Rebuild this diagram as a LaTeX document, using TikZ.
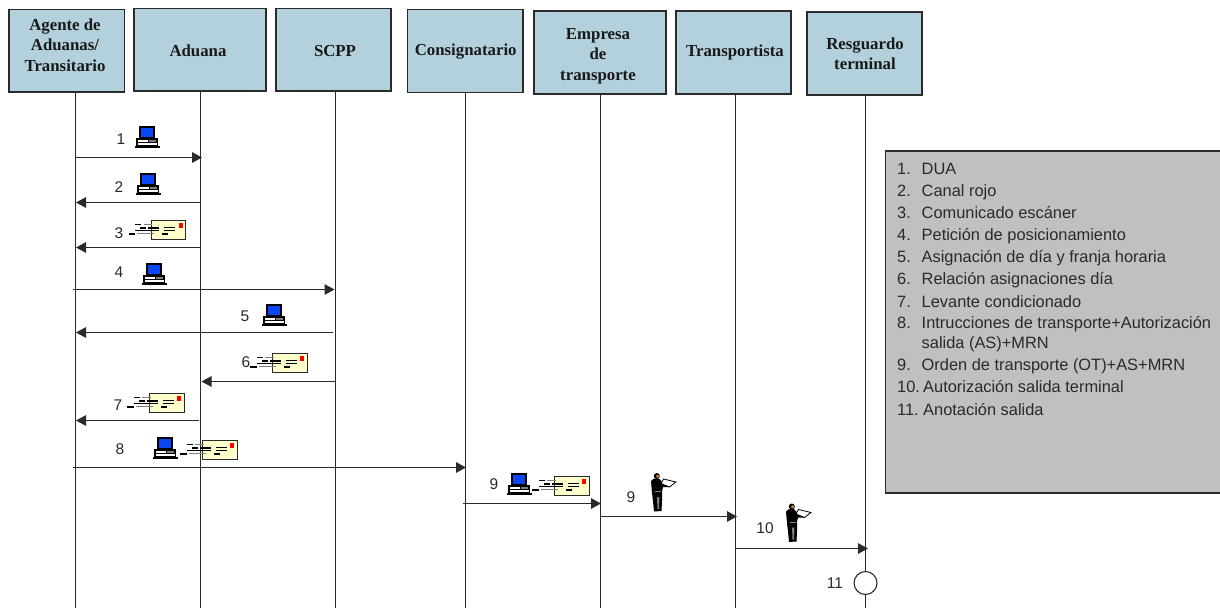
\documentclass[tikz,border=0pt]{standalone}
\usepackage{fontspec}
\setmainfont{Liberation Serif}
\newfontfamily\lsans{Liberation Sans}
\usetikzlibrary{arrows.meta}
\definecolor{hdr}{HTML}{B3D1DD}
\definecolor{panel}{HTML}{C0C0C0}
\definecolor{envy}{HTML}{FFFFCC}
\definecolor{scr}{HTML}{0A46F5}
\definecolor{ln}{HTML}{2A2A2A}
\tikzset{
  x=1pt,y=-1pt,
  hbox/.style={draw=ln,line width=1.2pt,fill=hdr,inner sep=0pt},
  htxt/.style={inner sep=0pt,align=center,text=black!90,
    font=\bfseries\fontsize{16.8}{20.4}\selectfont},
  life/.style={draw=ln,line width=1.3pt},
  msg/.style={draw=ln,line width=1.3pt,-{Triangle[length=10pt,width=10.5pt]}},
  num/.style={font=\lsans\fontsize{15.5}{17}\selectfont,text=ln,inner sep=0pt},
  lst/.style={font=\lsans\fontsize{16.4}{18}\selectfont,text=ln,inner sep=0pt,anchor=base west},
  pics/pc/.style={code={
    \fill[black] (4,0) rectangle (20,12.5);
    \fill[scr] (5.5,1.5) rectangle (17.5,11.3);
    \fill[black] (1,12) rectangle (23,20);
    \fill[white] (2.5,13.8) rectangle (13,16);
    \fill[white] (2.5,17.3) rectangle (22,18.8);
    \fill[gray] (14,13.5) rectangle (21,15.5);
    \fill[black] (0,20.4) rectangle (24.5,21.8);
  }},
  pics/env/.style={code={
    \draw[draw=ln,line width=.9pt,fill=envy] (0,0) rectangle (34.5,19);
    \fill[red] (27.5,3) rectangle (31.5,7.5);
    \fill[black] (13,6.5) rectangle (24,8);
    \fill[black] (13,9.5) rectangle (24,11);
    \fill[black] (11,13) rectangle (17,14.5);
    \fill[black] (-16,4) rectangle (-10,5.3);
    \fill[gray] (-7.5,4) rectangle (1,5.3);
    \fill[black] (-11,7.2) rectangle (-5,8.5);
    \fill[black] (-3,7.2) rectangle (8,8.5);
    \fill[black] (-16,10) rectangle (8,11.2);
    \fill[gray] (-14,13) rectangle (3,14);
    \fill[black] (-22.5,13) rectangle (-16,14.6);
  }},
  pics/man/.style={code={
    \fill[black] (1,8) -- (4,5.5) -- (9,5.5) -- (12,9) -- (18,11.5) -- (19.5,14) -- (13,14)
       -- (12,18) -- (12,28) -- (11.5,38) -- (4,38.5) -- (3,28) -- (2,20) -- cycle;
    \fill[black] (6.8,3) circle (3);
    \fill[brown!70!orange] (7.6,3.2) circle (1.7);
    \draw[draw=black,line width=.8pt,fill=white] (13.5,6) -- (26,9) -- (19.5,14) -- (11,10.5) -- cycle;
    \fill[gray] (5,18) rectangle (11,19.2);
    \fill[gray] (7,24) -- (9.5,24) -- (9,36) -- (7.5,36) -- cycle;
  }}
}
\begin{document}
\begin{tikzpicture}
\useasboundingbox (0,0) rectangle (1220,608);
\fill[white] (0,0) rectangle (1220,608);

% lifeline ends
\coordinate (e1) at (75.5,608);
\coordinate (e2) at (200.5,608);
\coordinate (e3) at (335.5,608);
\coordinate (e4) at (465.5,608);
\coordinate (e5) at (600.5,608);
\coordinate (e6) at (735.5,608);
\coordinate (e7) at (865.5,608);
\coordinate (t1) at (75.5,92);
\coordinate (t2) at (200.5,91);
\coordinate (t3) at (335.5,91);
\coordinate (t4) at (465.5,92);
\coordinate (t5) at (600.5,94);
\coordinate (t6) at (735.5,94);
\coordinate (t7) at (865.5,95);
\foreach \i in {1,...,7} \draw[life] (t\i) -- (e\i);

% headers
\node[hbox,minimum width=115.5pt,minimum height=82.5pt] (a) at (66.75,50.75) {};
\node[hbox,minimum width=132pt,minimum height=82.5pt] (b) at (200,49.75) {};
\node[hbox,minimum width=115pt,minimum height=82.5pt] (c) at (333.5,49.75) {};
\node[hbox,minimum width=115.5pt,minimum height=83pt] (d) at (465.25,51) {};
\node[hbox,minimum width=132pt,minimum height=83pt] (f) at (600,52.5) {};
\node[hbox,minimum width=115pt,minimum height=83pt] (g) at (733.5,52.5) {};
\node[hbox,minimum width=115pt,minimum height=83pt] (h) at (864.5,53.5) {};
\node[htxt] (at) at (65,45) {Agente de\\Aduanas/\\Transitario};
\node[htxt] (bt) at (198,51) {Aduana};
\node[htxt] (ct) at (335,51) {SCPP};
\node[htxt] (dt) at (465.7,52) {Consignatario};
\node[htxt] (ft) at (598,56) {Empresa\\de\\transporte};
\node[htxt] (gt) at (735,52) {Transportista};
\node[htxt] (ht) at (865,54) {Resguardo\\terminal};

% messages
\foreach \n/\xa/\xb/\y in {1/75/202/157.5, 2/200/76/202.5, 3/200/76/247.5, 4/73/334.5/289.5,
   5/333/76/332.5, 6/335/201.5/381.5, 7/199/76/420.5, 8/73/466/467.5,
   9/463/601/503.5, 10/600/737/516.5, 11/735/868/548.5}{
  \coordinate (ms\n) at (\xa,\y);
  \coordinate (mt\n) at (\xb,\y);
  \draw[msg] (ms\n) -- (mt\n);
}

% terminal step
\node[draw=ln,line width=1.1pt,fill=white,circle,minimum size=23pt,inner sep=0pt] (stop) at (865.5,583) {};

% step numbers
\node[num] (n1) at (121,139) {1};
\node[num] (n2) at (119,187) {2};
\node[num] (n3) at (119,233) {3};
\node[num] (n4) at (119,272) {4};
\node[num] (n5) at (245,316) {5};
\node[num] (n6) at (246,362) {6};
\node[num] (n7) at (118,405) {7};
\node[num] (n8) at (120,449) {8};
\node[num] (n9) at (494,484) {9};
\node[num] (n9b) at (631,497) {9};
\node[num] (n10) at (765,528) {10};
\node[num] (n11) at (835,583) {11};

% icons
\pic at (135,126) {pc};
\pic at (136,173) {pc};
\pic at (142,263) {pc};
\pic at (262,304) {pc};
\pic at (153,437) {pc};
\pic at (507,473) {pc};
\pic at (151,220) {env};
\pic at (272.5,353) {env};
\pic at (149.5,393) {env};
\pic at (202.5,440) {env};
\pic at (554.5,476) {env};
\pic at (650,473) {man};
\pic at (785,503.5) {man};

% legend
\draw[draw=ln,line width=1.1pt,fill=panel] (885.5,493) rectangle (1222,151);
\foreach \nm/\tx/\y in {1./DUA/174, 2./Canal rojo/196, 3./Comunicado escáner/218.5,
   4./Petición de posicionamiento/240.5, 5./Asignación de día y franja horaria/262,
   6./Relación asignaciones día/284.5, 7./Levante condicionado/307,
   8./Intrucciones de transporte+Autorización/328.5, 9./Orden de transporte (OT)+AS+MRN/370.5}{
  \node[lst] at (897,\y) {\nm};
  \node[lst] at (921.5,\y) {\tx};
}
\node[lst] at (921.5,348) {salida (AS)+MRN};
\node[lst] at (897,392.5) {10.};
\node[lst] at (923,392.5) {Autorización salida terminal};
\node[lst] at (897,415) {11.};
\node[lst] at (923,415) {Anotación salida};
\end{tikzpicture}
\end{document}
